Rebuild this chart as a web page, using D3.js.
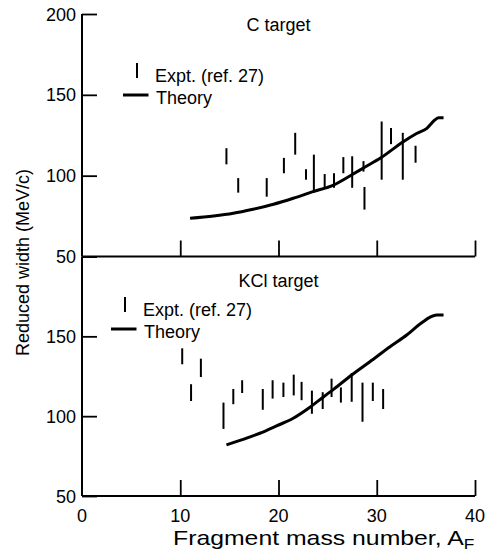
<!DOCTYPE html>
<html>
<head>
<meta charset="utf-8">
<script src="https://cdn.jsdelivr.net/npm/d3@7"></script>
<style>
  body { margin: 0; background: #fff; }
  svg { display: block; font-family: "Liberation Sans", Arial, Helvetica, sans-serif; }
</style>
</head>
<body>
<div id="chart"></div>
<script>

// fragment mass number ticks and reduced width ticks
var massTicks = [10, 20, 30, 40];
var massLabels = [0, 10, 20, 30, 40];
var widthTicks = [50, 100, 150, 200];

// C target: experimental ranges [A, low, high]
var cExpt = [
  [14.7, 107, 117], [15.9, 89.5, 98.5], [18.8, 87, 98.5], [20.55, 101.5, 111],
  [21.7, 113, 126.5], [22.8, 97.5, 104], [23.6, 89.5, 113], [24.7, 92.5, 101],
  [25.65, 92.5, 101.5], [26.6, 101.5, 111.5], [27.5, 92.5, 112], [28.65, 102.5, 109],
  [28.75, 79, 93], [30.5, 97.5, 133.5], [31.45, 119.5, 129.5], [32.65, 97.5, 126.5],
  [33.95, 108, 118.5]
];
// C target: theory curve [A, width]
var cTheory = [
  [11.0, 73.6], [13.4, 75.0], [15.4, 76.7], [17.4, 79.2], [19.5, 82.3], [21.5, 86.0],
  [23.5, 90.1], [25.6, 94.2], [27.6, 101], [28.6, 104.6], [30.5, 111.4], [32.7, 121],
  [34.1, 126.2], [35.1, 129.3], [35.9, 134.4], [36.3, 135.9], [36.8, 135.9]
];

// KCl target: experimental ranges [A, low, high]
var kclExpt = [
  [10.2, 132.5, 142.5], [11.1, 109.5, 120], [12.1, 124.5, 136], [14.4, 92, 108.5],
  [15.4, 107.5, 117], [16.3, 114.5, 122.5], [18.4, 104, 117], [19.4, 111, 122.5],
  [20.5, 112, 121], [21.55, 113, 126], [22.35, 110, 121.5], [23.4, 101.5, 116],
  [24.5, 104.5, 115], [25.4, 112, 123.5], [26.35, 108.5, 118], [27.45, 109, 127],
  [28.55, 96.5, 121], [29.6, 109.5, 121], [30.65, 104.5, 117]
];
// KCl target: theory curve [A, width]
var kclTheory = [
  [14.7, 82.0], [16.4, 85.5], [18.1, 89.3], [19.8, 93.9], [21.5, 98.7], [23.2, 105.6],
  [24.6, 112.2], [25.6, 116.8], [27.45, 125.8], [29.3, 134.1], [31.35, 143.5],
  [33.05, 150.8], [34.4, 157.7], [35.4, 161.9], [36.1, 163.4], [36.8, 163.4]
];

var width = 489, height = 554;

var svg = d3.select('#chart').append('svg')
  .attr('width', width)
  .attr('height', height);

svg.append('rect').attr('width', width).attr('height', height).attr('fill', '#fff');

var x = d3.scaleLinear().domain([0, 40]).range([82, 475]);
var yTop = d3.scaleLinear().domain([50, 200]).range([256.5, 14]);
var yBot = d3.scaleLinear().domain([50, 200]).range([496, 256.5]);

function drawPanel(y, expt, theory, title, titleY, legend) {
  var g = svg.append('g');

  // x axis: ticks pointing up, no labels
  g.append('g')
    .attr('transform', 'translate(0,' + y(50) + ')')
    .call(d3.axisTop(x).tickValues(massTicks).tickSize(16).tickFormat(''))
    .call(function (a) {
      a.select('.domain').attr('stroke-width', 2).attr('d', 'M' + x(0) + ',0H' + x(40));
      a.selectAll('.tick line').attr('stroke-width', 1.8);
    });

  // y axis: ticks pointing right
  g.append('g')
    .attr('transform', 'translate(' + x(0) + ',0)')
    .call(d3.axisRight(y).tickValues(widthTicks).tickSize(15).tickFormat(''))
    .call(function (a) {
      a.select('.domain').attr('stroke-width', 2).attr('d', 'M0,' + y(200) + 'V' + y(50));
      a.selectAll('.tick line').attr('stroke-width', 1.8);
    });

  // tick labels on the left
  g.selectAll('.ylab')
    .data(widthTicks.filter(function (d) { return y === yTop || d < 200; }))
    .enter().append('text')
    .attr('x', 76)
    .attr('y', function (d) { return y(d) + 6.5; })
    .attr('text-anchor', 'end')
    .attr('font-size', 18)
    .text(function (d) { return d; });

  // experimental ranges
  g.selectAll('.bar')
    .data(expt)
    .enter().append('line')
    .attr('x1', function (d) { return x(d[0]); })
    .attr('x2', function (d) { return x(d[0]); })
    .attr('y1', function (d) { return y(d[1]); })
    .attr('y2', function (d) { return y(d[2]); })
    .attr('stroke', '#000')
    .attr('stroke-width', 2);

  // theory curve
  var line = d3.line()
    .x(function (d) { return x(d[0]); })
    .y(function (d) { return y(d[1]); })
    .curve(d3.curveMonotoneX);

  g.append('path')
    .datum(theory)
    .attr('d', line)
    .attr('fill', 'none')
    .attr('stroke', '#000')
    .attr('stroke-width', 3);

  g.append('text')
    .attr('x', x(20))
    .attr('y', titleY)
    .attr('text-anchor', 'middle')
    .attr('font-size', 18)
    .text(title);

  // legend
  var lg = g.append('g');
  lg.append('line')
    .attr('x1', legend.tick).attr('x2', legend.tick)
    .attr('y1', legend.top).attr('y2', legend.top + 15)
    .attr('stroke', '#000').attr('stroke-width', 2);
  lg.append('text')
    .attr('x', legend.text).attr('y', legend.top + 18.5)
    .attr('font-size', 18)
    .text('Expt. (ref. 27)');
  lg.append('line')
    .attr('x1', legend.tick - 14).attr('x2', legend.tick + 11.5)
    .attr('y1', legend.top + 32).attr('y2', legend.top + 32)
    .attr('stroke', '#000').attr('stroke-width', 3);
  lg.append('text')
    .attr('x', legend.text + 1).attr('y', legend.top + 40.5)
    .attr('font-size', 18)
    .text('Theory');
}

drawPanel(yTop, cExpt, cTheory, 'C target', 30.5, { tick: 137, text: 155, top: 63 });
drawPanel(yBot, kclExpt, kclTheory, 'KCl target', 286.5, { tick: 125, text: 143, top: 297 });

// x tick labels
svg.selectAll('.xlab')
  .data(massLabels)
  .enter().append('text')
  .attr('x', function (d) { return x(d); })
  .attr('y', 521.5)
  .attr('text-anchor', 'middle')
  .attr('font-size', 18)
  .text(function (d) { return d; });

// axis titles (scanned title runs wide, so stretch it horizontally)
var xt = svg.append('text')
  .attr('transform', 'translate(173,545) scale(1.24,1)')
  .attr('font-size', 20);
xt.append('tspan').text('Fragment mass number, A');
xt.append('tspan').attr('dy', 4).attr('font-size', 14).text('F');

svg.append('text')
  .attr('transform', 'translate(29,262.5) rotate(-90)')
  .attr('text-anchor', 'middle')
  .attr('font-size', 18)
  .text('Reduced width (MeV/c)');

</script>
</body>
</html>
